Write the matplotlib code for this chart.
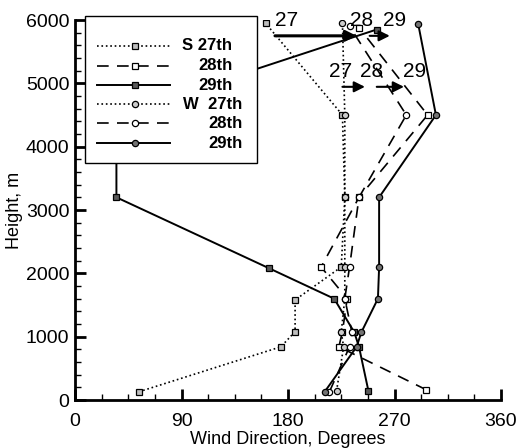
import matplotlib
matplotlib.use("Agg")
import matplotlib.pyplot as plt
from matplotlib.ticker import MultipleLocator
from matplotlib.patches import Rectangle
from matplotlib.lines import Line2D

plt.rcParams['font.family'] = ['Liberation Sans', 'DejaVu Sans']

# ---- data (wind direction in degrees, height in m) ----
s27_dir = [54, 174, 186, 186, 225, 228, 226, 161]
s27_h   = [130, 840, 1080, 1580, 2100, 3200, 4500, 5950]
s28_dir = [297, 223, 226, 230, 208, 240, 298, 240]
s28_h   = [160, 840, 1080, 1600, 2100, 3200, 4500, 5880]
s29_dir = [248, 240, 236, 219, 164, 35, 35, 255]
s29_h   = [140, 840, 1070, 1600, 2080, 3200, 4500, 5850]
w27_dir = [221, 227, 225, 228, 228, 228, 228, 226]
w27_h   = [140, 840, 1070, 1600, 2100, 3200, 4500, 5960]
w28_dir = [215, 232, 234, 228, 232, 240, 280, 232]
w28_h   = [130, 840, 1070, 1600, 2100, 3200, 4500, 5900]
w29_dir = [211, 238, 242, 256, 257, 257, 305, 290]
w29_h   = [130, 840, 1070, 1600, 2100, 3200, 4500, 5940]

legend_labels = ["S 27th", "28th", "29th", "W  27th", "28th", "29th"]

# annotation labels and arrows (day numbers)
row1_labels = ["27", "28", "29"]
row1_x = [179, 242, 270]
row1_y = 6000
row2_labels = ["27", "28", "29"]
row2_x = [224, 251, 287]
row2_y = 5180
arrows = [((169, 5750), (238, 5750), 2.2),
          ((249, 5750), (266, 5750), 1.5),
          ((226, 4945), (245, 4945), 1.5),
          ((255, 4945), (278, 4945), 1.5)]

series = [
    (s27_dir, s27_h, ':', 's', '0.75'),
    (s28_dir, s28_h, (0, (7, 5)), 's', 'white'),
    (s29_dir, s29_h, '-', 's', '0.35'),
    (w27_dir, w27_h, ':', 'o', '0.8'),
    (w28_dir, w28_h, (0, (7, 5)), 'o', 'white'),
    (w29_dir, w29_h, '-', 'o', '0.45'),
]

fig = plt.figure(figsize=(5.17, 4.48), dpi=100)
ax = fig.add_axes([75/517, 48/448, 426/517, 380/448])

for xs, ys, ls, mk, fc in series:
    lw = 1.4 if ls == '-' else 1.2
    ax.plot(xs, ys, linestyle=ls, color='black', lw=lw, marker=mk,
            markersize=4.5, markerfacecolor=fc, markeredgecolor='black',
            markeredgewidth=0.9, zorder=3)

ax.set_xlim(0, 360)
ax.set_ylim(0, 6000)
ax.xaxis.set_major_locator(MultipleLocator(90))
ax.xaxis.set_minor_locator(MultipleLocator(22.5))
ax.yaxis.set_major_locator(MultipleLocator(1000))
ax.yaxis.set_minor_locator(MultipleLocator(200))
for s in ['top', 'right']:
    ax.spines[s].set_visible(False)
for s in ['left', 'bottom']:
    ax.spines[s].set_linewidth(2)
ax.tick_params(which='major', direction='in', length=8, width=2, labelsize=14, pad=4)
ax.tick_params(axis='x', which='major', pad=9)
ax.tick_params(which='minor', direction='in', length=4, width=1)
ax.set_xlabel("Wind Direction, Degrees", fontsize=13, labelpad=1)
ax.set_ylabel("Height, m", fontsize=13, labelpad=2)

# annotations
for lab, x in zip(row1_labels, row1_x):
    ax.text(x, row1_y, lab, fontsize=15, ha='center', va='center', clip_on=False, zorder=6)
for lab, x in zip(row2_labels, row2_x):
    ax.text(x, row2_y, lab, fontsize=15, ha='center', va='center', clip_on=False, zorder=6)
for (x0, y0), (x1, y1), lw in arrows:
    ax.annotate("", xy=(x1, y1), xytext=(x0, y0),
                arrowprops=dict(arrowstyle='-|>', color='black', lw=lw,
                                mutation_scale=16, shrinkA=0, shrinkB=0), zorder=6)

# legend box (figure pixel coordinates)
W, H = 517, 448
def fx(px): return px / W
def fy(py): return 1 - py / H
fig.patches.append(Rectangle((fx(85), fy(163)), fx(257) - fx(85), fy(16) - fy(163),
                             transform=fig.transFigure, facecolor='white',
                             edgecolor='black', lw=1.0, zorder=10))
row_y = [46, 66, 85, 104, 123, 143]
text_x = [232, 233, 233, 242, 243, 243]
for (xs, ys, ls, mk, fc), lab, ry, tx in zip(series, legend_labels, row_y, text_x):
    lw = 1.4 if ls == '-' else 1.2
    fig.lines.append(Line2D([fx(97), fx(170)], [fy(ry), fy(ry)], transform=fig.transFigure,
                            color='black', linestyle=ls, lw=lw, zorder=11))
    fig.lines.append(Line2D([fx(135)], [fy(ry)], transform=fig.transFigure, marker=mk,
                            markersize=4.5, markerfacecolor=fc, markeredgecolor='black',
                            markeredgewidth=0.9, linestyle='none', zorder=12))
    fig.text(fx(tx), fy(ry), lab, fontsize=12, fontweight='bold', ha='right', va='center',
             zorder=12)

fig.savefig("out.png", dpi=100)
